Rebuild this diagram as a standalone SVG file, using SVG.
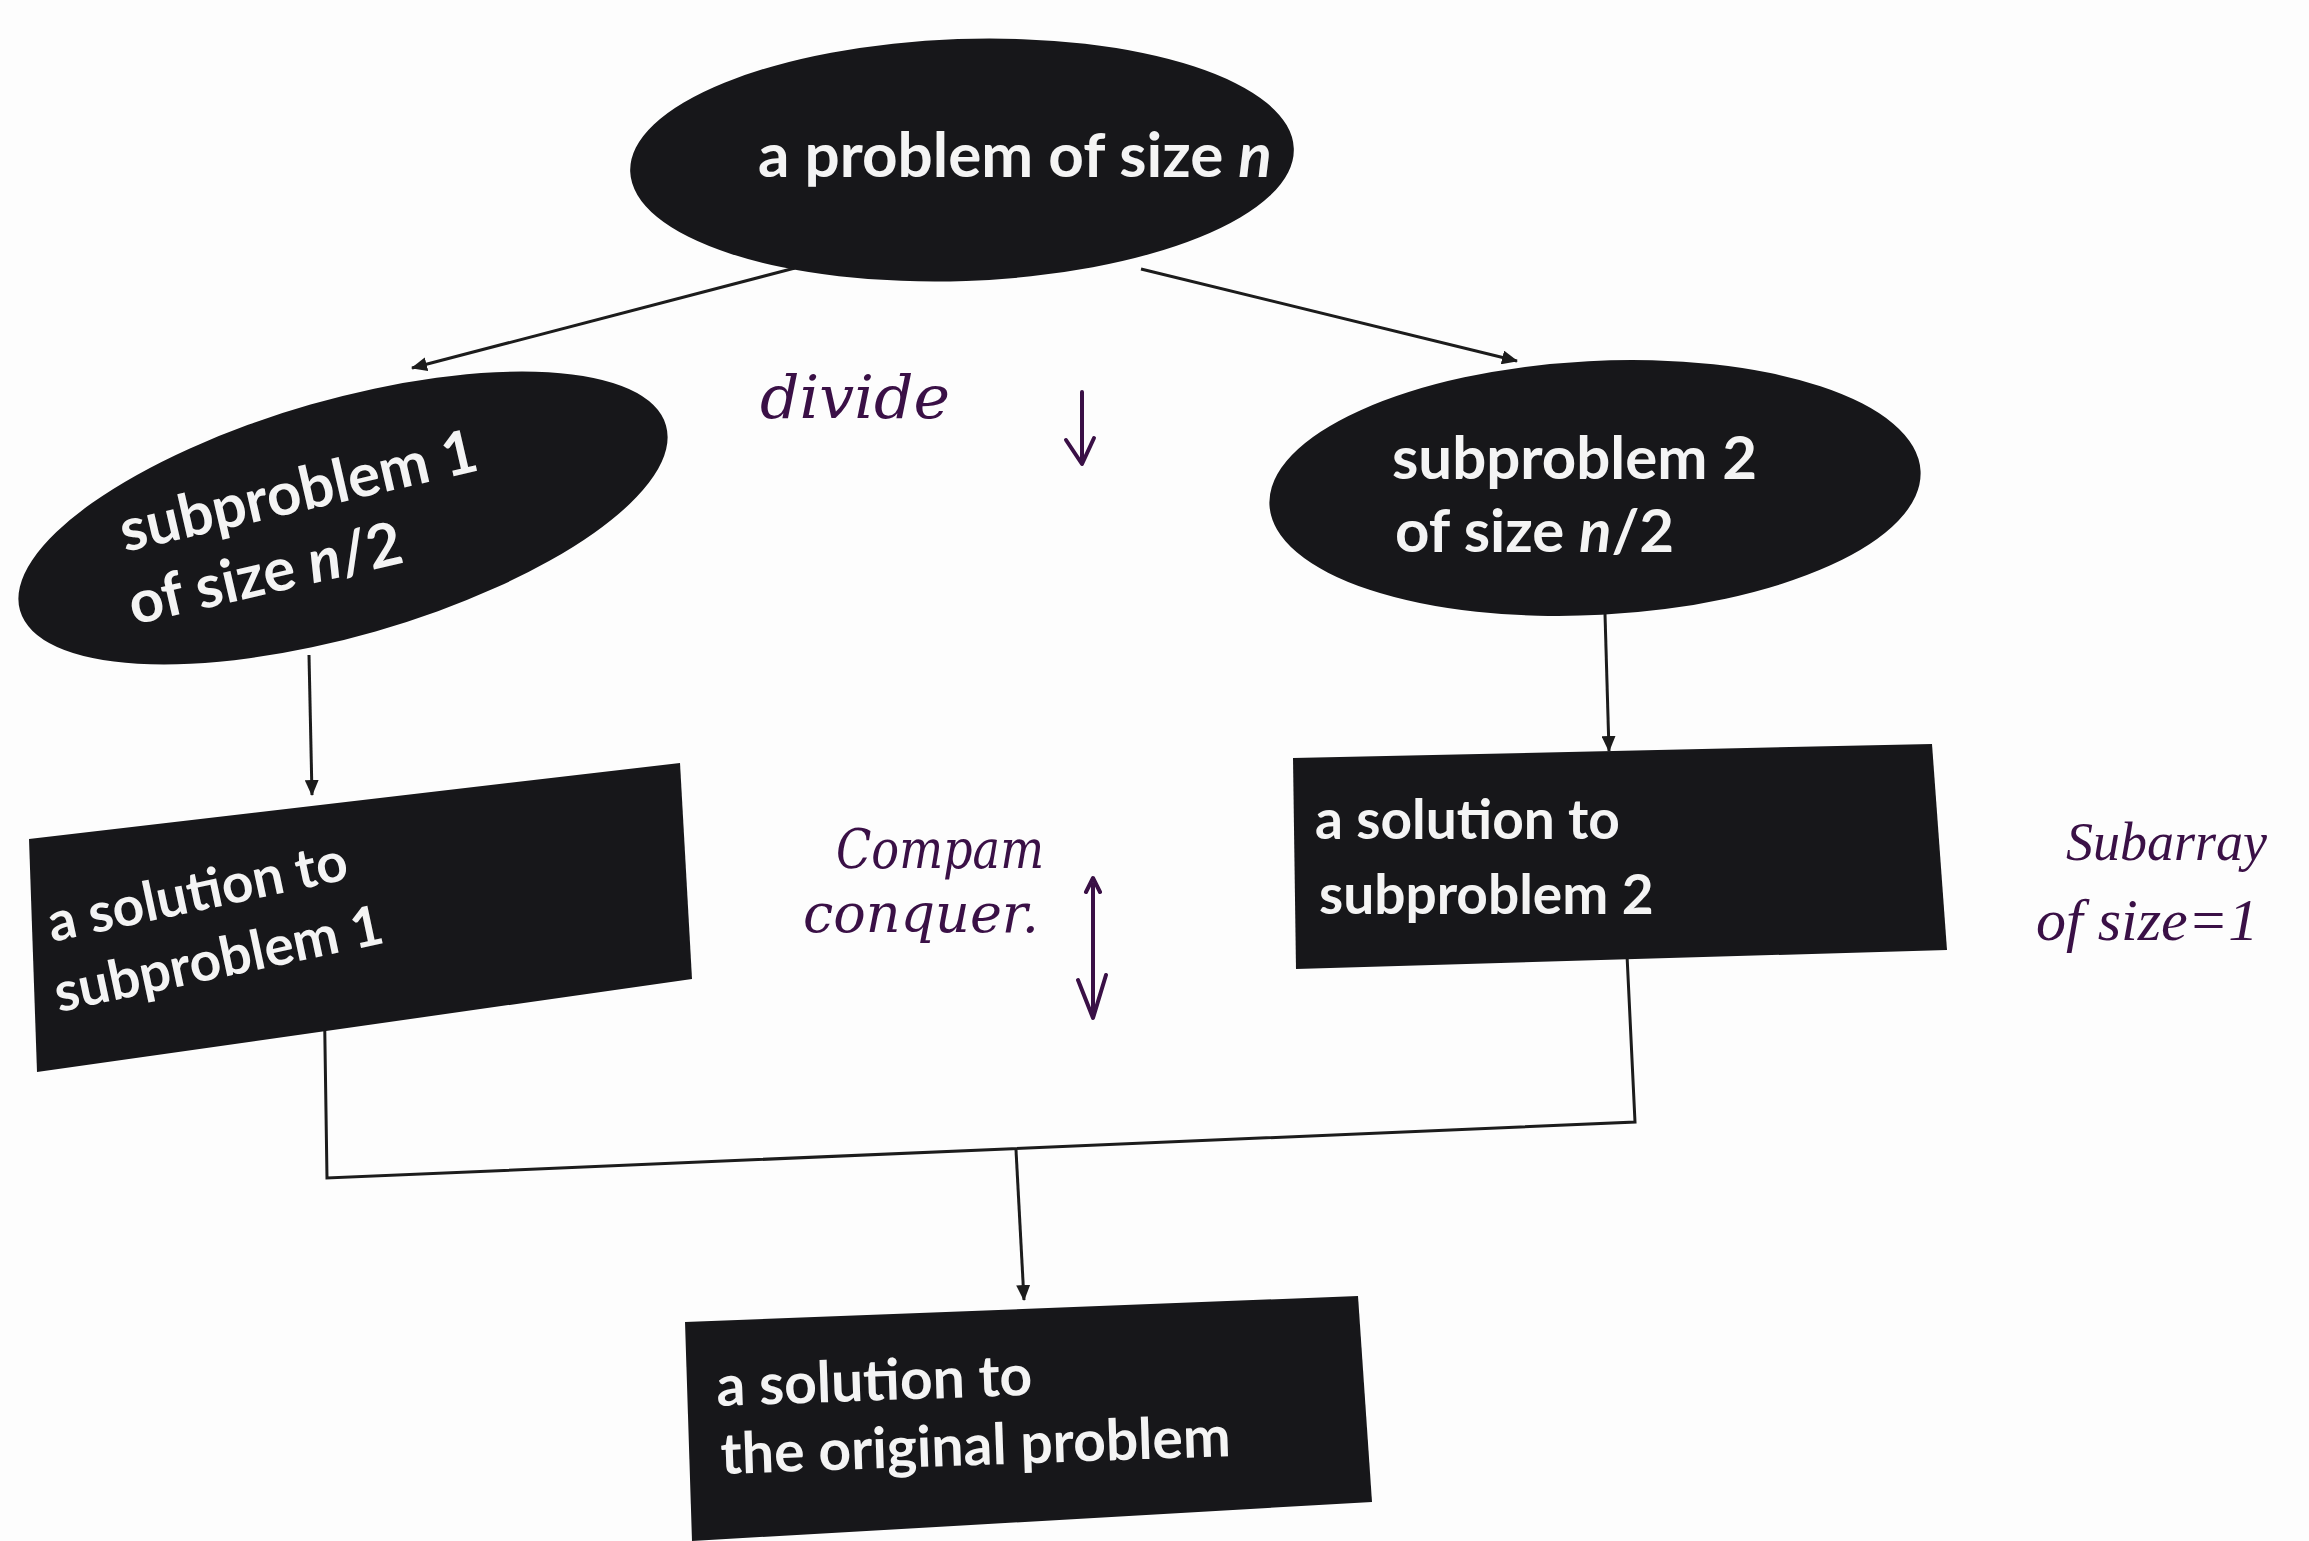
<svg xmlns="http://www.w3.org/2000/svg" width="2309" height="1541" viewBox="0 0 2309 1541">
<style>
.bg{fill:#fdfdfd}
.node{fill:#17171a}
.lbl{font-family:Lato,"Liberation Sans",sans-serif;font-size:60px;fill:#f4f4f4;font-weight:bold}
.sm{font-size:55px}
.conn{stroke:#1c1c1c;stroke-width:3;fill:none}
.hand{font-family:"DejaVu Serif","Liberation Serif",serif;font-style:italic;fill:#3a1046;font-size:54px}
.handline{stroke:#3a1046;stroke-width:4;fill:none;stroke-linecap:round;stroke-linejoin:round}
</style>
<defs>
<marker id="arr" markerUnits="userSpaceOnUse" markerWidth="16" markerHeight="14" refX="15" refY="7" orient="auto">
<path d="M0,0 L16,7 L0,14 z" fill="#1c1c1c"/>
</marker>
</defs>
<rect class="bg" x="0" y="0" width="2309" height="1541"/>

<g id="connectors">
<line class="conn" x1="795" y1="268" x2="412" y2="368" marker-end="url(#arr)"/>
<line class="conn" x1="1141" y1="269" x2="1517" y2="361" marker-end="url(#arr)"/>
<line class="conn" x1="309" y1="655" x2="312" y2="795" marker-end="url(#arr)"/>
<line class="conn" x1="1605" y1="614" x2="1609" y2="751" marker-end="url(#arr)"/>
<polyline class="conn" points="324,979 327,1178 1635,1122 1627,955"/>
<line class="conn" x1="1016" y1="1150" x2="1024" y2="1300" marker-end="url(#arr)"/>
</g>

<g id="problem">
<ellipse class="node" cx="962" cy="160" rx="332" ry="121" transform="rotate(-2 962 160)"/>
<text class="lbl" x="758" y="177" style="font-size:62px">a problem of size <tspan font-style="italic">n</tspan></text>
</g>

<g id="subproblem1">
<ellipse class="node" cx="343" cy="518" rx="336" ry="118" transform="rotate(-16 343 518)"/>
<g transform="translate(125,552) rotate(-13)">
<text class="lbl" x="0" y="0">subproblem 1</text>
<text class="lbl" x="-8" y="73">of size <tspan font-style="italic">n</tspan>/2</text>
</g>
</g>

<g id="subproblem2">
<ellipse class="node" cx="1595" cy="488" rx="326" ry="127" transform="rotate(-3 1595 488)"/>
<text class="lbl" x="1392" y="479">subproblem 2</text>
<text class="lbl" x="1395" y="552">of size <tspan font-style="italic">n</tspan>/2</text>
</g>

<g id="solution1">
<polygon class="node" points="29,839 680,763 692,979 37,1072"/>
<g transform="translate(52,942) rotate(-12)">
<text class="lbl sm" x="0" y="0">a solution to</text>
<text class="lbl sm" x="-8" y="70">subproblem 1</text>
</g>
</g>

<g id="solution2">
<polygon class="node" points="1293,758 1932,744 1947,950 1296,969"/>
<text class="lbl sm" x="1315" y="839">a solution to</text>
<text class="lbl sm" x="1319" y="914">subproblem 2</text>
</g>

<g id="solution">
<polygon class="node" points="685,1322 1358,1296 1372,1502 692,1541"/>
<g transform="translate(717,1406) rotate(-2)">
<text class="lbl" x="0" y="0" style="font-size:57px">a solution to</text>
<text class="lbl" x="2" y="68" style="font-size:57px">the original problem</text>
</g>
</g>

<g id="annotations">
<text class="hand" x="760" y="418" style="font-size:60px" textLength="190" lengthAdjust="spacingAndGlyphs">divide</text>
<path class="handline" d="M1082,392 L1082,462 M1066,440 L1082,464 L1094,438"/>
<text class="hand" x="836" y="868" textLength="208" lengthAdjust="spacingAndGlyphs">Compam</text>
<text class="hand" x="803" y="932">conquer.</text>
<path class="handline" d="M1093,885 L1093,1015 M1086,892 L1093,878 L1100,892 M1078,980 L1093,1018 L1106,975"/>
<text class="hand" x="2066" y="860" style="font-family:'Liberation Serif',serif;font-size:54px">Subarray</text>
<text class="hand" x="2036" y="940" style="font-family:'Liberation Serif',serif;font-size:60px">of size=1</text>
</g>
</svg>
